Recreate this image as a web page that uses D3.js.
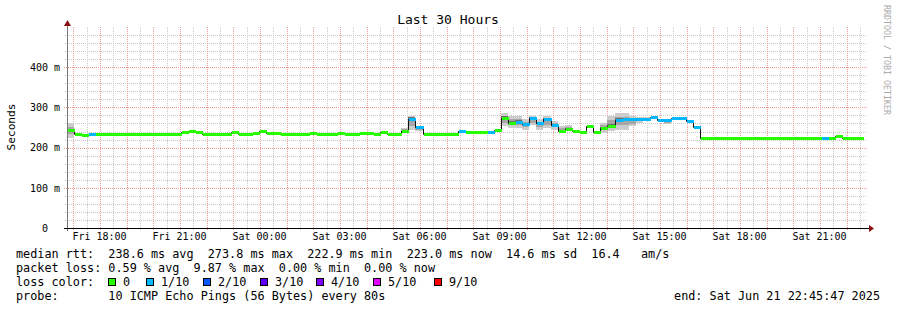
<!DOCTYPE html>
<html lang="en">
<head>
<meta charset="utf-8">
<title>Last 30 Hours</title>
<script src="https://cdn.jsdelivr.net/npm/d3@7"></script>
<style>
  body { margin: 0; background: #fff; }
  svg { display: block; font-family: "DejaVu Sans Mono", monospace; }
  text { white-space: pre; }
</style>
</head>
<body>
<svg id="chart"></svg>
<script>
// time window of the graph (30 hours, 16 minute steps)
var startTime = new Date(2025, 5, 20, 16, 45, 47);
var endTime = new Date(2025, 5, 21, 22, 45, 47);
var stepMinutes = 16;

// median rtt per step, ms
var medianMs = [
  243, 235, 232, 235, 233, 233, 235, 233, 235, 233,
  235, 235, 235, 233, 234, 234, 239, 241, 239, 235,
  235, 234, 234, 239, 235, 235, 236, 241, 237, 237,
  234, 235, 234, 235, 236, 234, 235, 234, 236, 234,
  234, 236, 236, 234, 238, 233, 233, 241, 271, 251,
  233, 233, 233, 233, 233, 242, 239, 239, 239, 239,
  244, 274, 262, 264, 259, 273, 261, 270, 257, 242,
  246, 242, 238, 253, 239, 249, 254, 268, 270, 271,
  272, 272, 277, 268, 269, 274, 274, 267, 252, 225,
  225, 223, 223, 225, 224, 224, 224, 224, 224, 224,
  224, 224, 224, 224, 224, 224, 225, 223, 228, 224,
  225, 223
];

// lost pings per step (out of 10)
var lossCount = [
  0, 0, 0, 1, 0, 0, 0, 0, 0, 0,
  0, 0, 0, 0, 0, 0, 0, 0, 0, 0,
  0, 0, 0, 0, 0, 0, 0, 0, 0, 0,
  0, 0, 0, 0, 0, 0, 0, 0, 0, 0,
  0, 0, 0, 0, 0, 0, 0, 0, 1, 1,
  0, 0, 0, 0, 0, 1, 0, 0, 0, 1,
  0, 0, 0, 1, 1, 1, 1, 1, 1, 0,
  0, 0, 0, 0, 0, 0, 0, 1, 1, 1,
  1, 1, 1, 1, 1, 1, 1, 1, 1, 0,
  0, 0, 0, 0, 0, 0, 0, 0, 0, 0,
  0, 0, 0, 0, 0, 0, 1, 0, 0, 0,
  0, 0
];

// smoke (spread of the 10 pings) where it is visible
var smokeStep = [0, 47, 48, 49, 61, 62, 63, 64, 65, 66, 67, 68, 69, 70, 75, 76, 77, 78, 79, 80, 81, 84];
var smokeLow  = [225, 237, 245, 242, 253, 248, 249, 245, 257, 245, 249, 245, 241, 241, 237, 241, 245, 245, 253, 262, 265, 259];
var smokeHigh = [261, 249, 278, 254, 287, 278, 278, 270, 278, 270, 278, 266, 253, 256, 262, 278, 285, 285, 278, 276, 276, 270];

// legend
var lossLabels = ["0", "1/10", "2/10", "3/10", "4/10", "5/10", "9/10"];
var lossColors = ["#26ff00", "#00b8ff", "#0059ff", "#5e00ff", "#7e00ff", "#dd00ff", "#ff0000"];
var yTicks = [0, 100, 200, 300, 400];
var statLines = [
  "median rtt:  238.6 ms avg  273.8 ms max  222.9 ms min  223.0 ms now  14.6 ms sd  16.4   am/s",
  "packet loss: 0.59 % avg  9.87 % max  0.00 % min  0.00 % now",
  "loss color:",
  "probe:       10 ICMP Echo Pings (56 Bytes) every 80s"
];
var endLabel = "end: Sat Jun 21 22:45:47 2025";

var W = 897, H = 310;
var plotL = 67, plotR = 867, plotT = 27, plotB = 228;

var svg = d3.select("#chart").attr("width", W).attr("height", H);
svg.append("rect").attr("width", W).attr("height", H).attr("fill", "#fff");

var x = d3.scaleTime().domain([startTime, endTime]).range([plotL, plotR]);
var y = d3.scaleLinear().domain([0, 500]).range([plotB, plotT]);

function px(v) { return Math.round(v) + 0.5; }

// --- grid ---
var grid = svg.append("g");
var minorX = d3.timeMinute.every(30).range(startTime, endTime).filter(function(d) { return d.getMinutes() !== 0; });
var majorX = d3.timeHour.every(1).range(startTime, endTime);
var minorY = d3.range(20, 500, 20).filter(function(d) { return d % 100 !== 0; });
var majorY = d3.range(100, 500, 100);

grid.selectAll(".mnx").data(minorX).enter().append("line")
  .attr("x1", function(d) { return px(x(d)); }).attr("x2", function(d) { return px(x(d)); })
  .attr("y1", plotT).attr("y2", plotB + 2)
  .attr("stroke", "#c8c8c8").attr("stroke-dasharray", "1,1");
grid.selectAll(".mny").data(minorY).enter().append("line")
  .attr("x1", plotL - 2).attr("x2", plotR)
  .attr("y1", function(d) { return px(y(d)); }).attr("y2", function(d) { return px(y(d)); })
  .attr("stroke", "#c8c8c8").attr("stroke-dasharray", "1,1");
grid.selectAll(".mjx").data(majorX).enter().append("line")
  .attr("x1", function(d) { return px(x(d)); }).attr("x2", function(d) { return px(x(d)); })
  .attr("y1", plotT).attr("y2", plotB + 3)
  .attr("stroke", "#f09a9a").attr("stroke-dasharray", "1,1");
grid.selectAll(".mjy").data(majorY).enter().append("line")
  .attr("x1", plotL - 3).attr("x2", plotR)
  .attr("y1", function(d) { return px(y(d)); }).attr("y2", function(d) { return px(y(d)); })
  .attr("stroke", "#f09a9a").attr("stroke-dasharray", "1,1");

// --- data ---
function stepStart(i) { return d3.timeMinute.offset(startTime, i * stepMinutes); }
function stepEnd(i) { return d3.timeMinute.offset(startTime, (i + 1) * stepMinutes); }
function sx(i) { return Math.round(x(stepStart(i))); }
function ex(i) { return Math.round(x(stepEnd(i))); }
function ry(v) { return Math.round(y(v)); }

var smoke = svg.append("g").attr("shape-rendering", "crispEdges");
smokeStep.forEach(function(s, k) {
  var x0 = sx(s), x1 = ex(s);
  var lo = smokeLow[k], hi = smokeHigh[k], r = hi - lo, m = medianMs[s];
  smoke.append("rect").attr("x", x0).attr("width", x1 - x0)
    .attr("y", ry(hi)).attr("height", ry(lo) - ry(hi)).attr("fill", "#cccccc");
  smoke.append("rect").attr("x", x0).attr("width", x1 - x0)
    .attr("y", ry(hi - r * 0.25)).attr("height", ry(lo + r * 0.25) - ry(hi - r * 0.25)).attr("fill", "#a6a6a6");
  smoke.append("rect").attr("x", x0).attr("width", x1 - x0)
    .attr("y", ry(m + r * 0.12)).attr("height", Math.max(1, ry(m - r * 0.12) - ry(m + r * 0.12))).attr("fill", "#6e6e6e");
});

// thin black median line (shows on the jumps)
var steps = medianMs.map(function(v, i) { return { t: stepStart(i), v: v }; });
steps.push({ t: stepEnd(medianMs.length - 1), v: medianMs[medianMs.length - 1] });
svg.append("path").datum(steps)
  .attr("fill", "none").attr("stroke", "#111").attr("stroke-width", 1)
  .attr("d", d3.line().curve(d3.curveStepAfter)
    .x(function(d) { return Math.round(x(d.t)) + 0.5; }).y(function(d) { return ry(d.v) + 0.5; }));

// loss coloured median band
var lossIndex = { 0: 0, 1: 1, 2: 2, 3: 3, 4: 4, 5: 5, 9: 6 };
svg.append("g").attr("shape-rendering", "crispEdges")
  .selectAll("rect").data(medianMs).enter().append("rect")
  .attr("x", function(d, i) { return sx(i) + 1; })
  .attr("width", function(d, i) { return ex(i) - sx(i); })
  .attr("y", function(d) { return ry(d) - 1; })
  .attr("height", 3)
  .attr("fill", function(d, i) { return lossColors[lossIndex[lossCount[i]]]; });

// --- axes ---
var xAxis = d3.axisBottom(x).ticks(d3.timeHour.every(3)).tickSize(0).tickPadding(5)
  .tickFormat(d3.timeFormat("%a %H:%M"));
var gx = svg.append("g").attr("transform", "translate(-1," + plotB + ")").call(xAxis);
gx.select(".domain").remove();
gx.selectAll("text").attr("font-family", "DejaVu Sans Mono").attr("font-size", "10px").attr("fill", "#000");

var yAxis = d3.axisLeft(y).tickValues(yTicks).tickSize(0).tickPadding(7)
  .tickFormat(function(d) { return d === 0 ? "0" : d + " m"; });
var gy = svg.append("g").attr("transform", "translate(" + plotL + ",0)").call(yAxis);
gy.select(".domain").remove();
gy.selectAll("text").attr("font-family", "DejaVu Sans Mono").attr("font-size", "10px").attr("fill", "#000");
gy.selectAll(".tick").filter(function(d) { return d === 0; }).select("text").attr("dx", -12);

// axis lines + arrows
svg.append("line").attr("x1", px(plotL)).attr("x2", px(plotL)).attr("y1", plotB + 3).attr("y2", plotT - 3)
  .attr("stroke", "#777");
svg.append("line").attr("x1", plotL - 3).attr("x2", plotR + 3).attr("y1", px(plotB)).attr("y2", px(plotB))
  .attr("stroke", "#000");
svg.append("path").attr("d", "M" + (plotL - 3) + "," + (plotT - 1) + "L" + (plotL + 0.5) + "," + (plotT - 7) + "L" + (plotL + 4) + "," + (plotT - 1) + "Z")
  .attr("fill", "#8b1010");
svg.append("path").attr("d", "M" + (plotR + 2) + "," + (plotB - 3) + "L" + (plotR + 7) + "," + (plotB + 0.5) + "L" + (plotR + 2) + "," + (plotB + 4) + "Z")
  .attr("fill", "#8b1010");

// --- titles ---
svg.append("text").attr("x", 448).attr("y", 24).attr("text-anchor", "middle")
  .attr("font-size", "13px").attr("fill", "#000").text("Last 30 Hours");
svg.append("text").attr("transform", "translate(14.5,127) rotate(-90)").attr("text-anchor", "middle")
  .attr("font-size", "11.2px").attr("fill", "#000").text("Seconds");
svg.append("text").attr("transform", "translate(884,5) rotate(90)")
  .attr("font-size", "8.3px").attr("fill", "#aaa").text("RRDTOOL / TOBI OETIKER");

// --- legend ---
var legend = svg.append("g").attr("font-size", "11.8px").attr("fill", "#000");
statLines.forEach(function(s, i) {
  legend.append("text").attr("x", 16).attr("y", 258 + i * 14).text(s);
});
var boxX = [108, 146, 203, 260, 316, 373, 434];
lossLabels.forEach(function(l, i) {
  legend.append("rect").attr("x", boxX[i] + 0.5).attr("y", 278.5).attr("width", 7).attr("height", 7)
    .attr("fill", lossColors[i]).attr("stroke", "#000");
  legend.append("text").attr("x", boxX[i] + 15).attr("y", 286).text(l);
});
legend.append("text").attr("x", 880).attr("y", 300).attr("text-anchor", "end").text(endLabel);
</script>
</body>
</html>
